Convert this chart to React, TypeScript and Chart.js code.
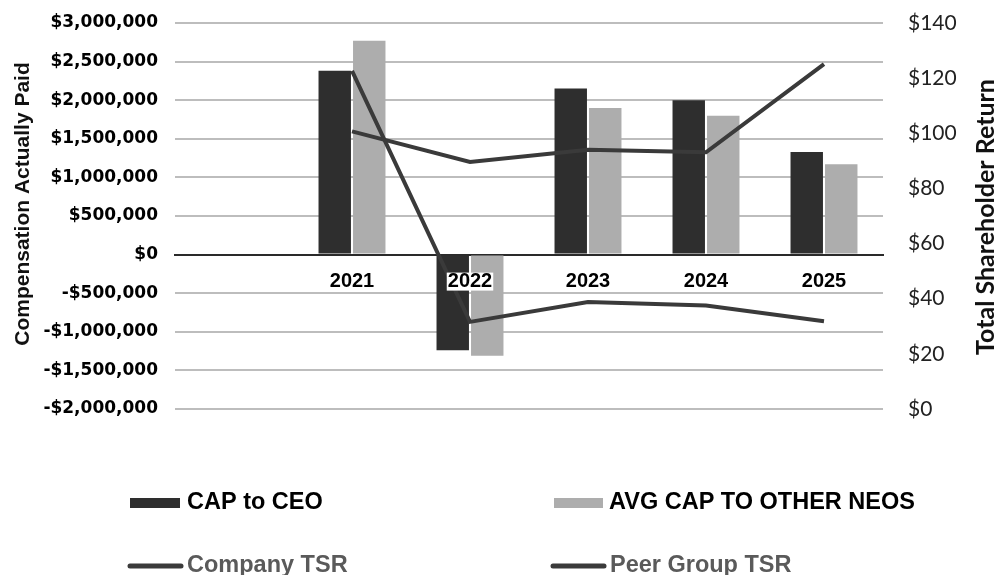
import React, { useEffect, useRef } from 'react';
import { Chart, registerables } from 'chart.js';

Chart.register(...registerables);

// ---- data ----
const years: string[] = ['', '2021', '2022', '2023', '2024', '2025'];
const capToCeo: (number | null)[] = [null, 2380000, -1240000, 2150000, 2000000, 1330000];
const avgCapOtherNeos: (number | null)[] = [null, 2770000, -1310000, 1900000, 1800000, 1170000];
const companyTsr: (number | null)[] = [null, 122.6, 31.6, 38.8, 37.5, 31.8];
const peerGroupTsr: (number | null)[] = [null, 100.7, 89.6, 94.0, 93.1, 125.1];

const capAxisRange = [-2000000, 3000000];
const capAxisStep = 500000;
const tsrAxisRange = [0, 140];
const tsrAxisStep = 20;

const seriesLabels = ['CAP to CEO', 'AVG CAP TO OTHER NEOS', 'Company TSR', 'Peer Group TSR'];
const leftTitle = 'Compensation Actually Paid';
const rightTitle = 'Total Shareholder Return';

const ARIAL = "'Liberation Sans', Arial, sans-serif";

const fmtMoney = (v: number) =>
  (v < 0 ? '-' : '') + '$' + Math.abs(v).toLocaleString('en-US');

const overlayPlugin = {
  id: 'overlay',
  afterDraw(chart: any) {
    const ctx: CanvasRenderingContext2D = chart.ctx;
    const ds = chart.data.datasets;
    ctx.save();
    const rot = (text: string, x: number, y: number, font: string, color: string) => {
      ctx.save();
      ctx.translate(x, y);
      ctx.rotate(-Math.PI / 2);
      ctx.font = font;
      ctx.fillStyle = color;
      ctx.textAlign = 'center';
      ctx.textBaseline = 'middle';
      ctx.fillText(text, 0, 0);
      ctx.restore();
    };
    rot(leftTitle, 23, 204, `bold 21px ${ARIAL}`, '#111111');
    rot(rightTitle, 986, 217, 'bold 25px Lato', '#111111');

    // legend
    ctx.textAlign = 'left';
    ctx.textBaseline = 'middle';
    ctx.font = `bold 23.5px ${ARIAL}`;
    // row 1: bars
    ctx.fillStyle = ds[0].backgroundColor;
    ctx.fillRect(130, 498, 50, 10);
    ctx.fillStyle = '#000000';
    ctx.fillText(ds[0].label, 187, 503);
    ctx.fillStyle = ds[1].backgroundColor;
    ctx.fillRect(554, 498, 49, 10);
    ctx.fillStyle = '#000000';
    ctx.fillText(ds[1].label, 609, 503);
    // row 2: lines
    ctx.lineCap = 'round';
    ctx.lineWidth = 5;
    ctx.strokeStyle = ds[2].borderColor;
    ctx.beginPath();
    ctx.moveTo(130, 566);
    ctx.lineTo(181, 566);
    ctx.stroke();
    ctx.strokeStyle = ds[3].borderColor;
    ctx.beginPath();
    ctx.moveTo(553, 566);
    ctx.lineTo(604, 566);
    ctx.stroke();
    ctx.fillStyle = '#5a5a5a';
    ctx.fillText(ds[2].label, 187, 566);
    ctx.fillText(ds[3].label, 610, 566);
    ctx.restore();
  },
};

export default function App() {
  const ref = useRef<HTMLCanvasElement | null>(null);

  useEffect(() => {
    if (!ref.current) return;
    const chart = new Chart(ref.current, {
      type: 'bar',
      data: {
        labels: years,
        datasets: [
          {
            type: 'bar',
            label: seriesLabels[0],
            data: capToCeo,
            backgroundColor: '#2e2e2e',
            yAxisID: 'y',
            order: 2,
            categoryPercentage: 0.585,
            barPercentage: 0.94,
          },
          {
            type: 'bar',
            label: seriesLabels[1],
            data: avgCapOtherNeos,
            backgroundColor: '#adadad',
            yAxisID: 'y',
            order: 2,
            categoryPercentage: 0.585,
            barPercentage: 0.94,
          },
          {
            type: 'line',
            label: seriesLabels[2],
            data: companyTsr,
            borderColor: '#3a3a3a',
            backgroundColor: '#3a3a3a',
            borderWidth: 4,
            pointRadius: 0,
            tension: 0,
            yAxisID: 'y1',
            order: 0,
          },
          {
            type: 'line',
            label: seriesLabels[3],
            data: peerGroupTsr,
            borderColor: '#3a3a3a',
            backgroundColor: '#3a3a3a',
            borderWidth: 4,
            pointRadius: 0,
            tension: 0,
            yAxisID: 'y1',
            order: 0,
          },
        ] as any,
      },
      options: {
        responsive: false,
        animation: false,
        layout: { padding: { left: 0, right: 0, top: 23, bottom: 166 } },
        plugins: {
          legend: { display: false },
          tooltip: { enabled: false },
        },
        scales: {
          x: {
            type: 'category',
            position: { y: 0 } as any,
            offset: true,
            grid: { display: false, drawTicks: false },
            border: { display: true, color: '#2a2a2a', width: 2 },
            ticks: {
              z: 1,
              padding: 15,
              color: '#000000',
              font: { family: ARIAL, size: 20, weight: 'bold' },
              maxRotation: 0,
              autoSkip: false,
              showLabelBackdrop: true,
              backdropColor: '#ffffff',
              backdropPadding: { top: -3, bottom: -3, left: 1, right: 1 },
            } as any,
          },
          y: {
            type: 'linear',
            position: 'left',
            min: capAxisRange[0],
            max: capAxisRange[1],
            grid: { color: '#bdbdbd', lineWidth: 2, drawTicks: false },
            border: { display: false },
            ticks: {
              stepSize: capAxisStep,
              padding: 17,
              color: '#000000',
              font: { family: "'DejaVu Sans'", size: 17, weight: 'bold' },
              callback: (v: any) => fmtMoney(Number(v)),
            },
            afterFit: (s: any) => {
              s.width = 175;
              s.paddingTop = 0;
              s.paddingBottom = 0;
            },
          },
          y1: {
            type: 'linear',
            position: 'right',
            min: tsrAxisRange[0],
            max: tsrAxisRange[1],
            grid: { display: false, drawTicks: false },
            border: { display: false },
            ticks: {
              stepSize: tsrAxisStep,
              padding: 25,
              color: '#222222',
              font: { family: 'Lato', size: 21 },
              callback: (v: any) => '$' + v,
            },
            afterFit: (s: any) => {
              s.width = 115;
              s.paddingTop = 0;
              s.paddingBottom = 0;
            },
          },
        },
      } as any,
      plugins: [overlayPlugin],
    });
    return () => chart.destroy();
  }, []);

  return (
    <div style={{ position: 'absolute', left: 0, top: 0, width: 998, height: 575, background: '#ffffff' }}>
      <canvas ref={ref} width={998} height={575} />
    </div>
  );
}
